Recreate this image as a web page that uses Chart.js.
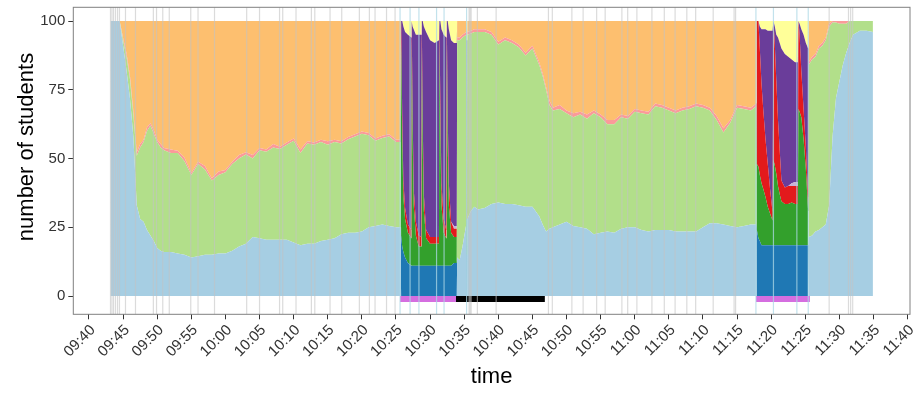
<!DOCTYPE html>
<html>
<head>
<meta charset="utf-8">
<script src="https://cdn.jsdelivr.net/npm/chart.js@4.4.1/dist/chart.umd.min.js"></script>
<style>
  html, body { margin: 0; padding: 0; background: #fff; }
  #wrap { width: 920px; height: 393px; position: relative; }
</style>
</head>
<body>
<div id="wrap"><canvas id="chart"></canvas></div>
<script>
// sample times (hh:mm:ss)
const times = [
  '09:43:09','09:44:30','09:45:00','09:45:30','09:46:00','09:46:30','09:47:00','09:47:30','09:48:00','09:48:30',
  '09:49:00','09:49:30','09:50:00','09:50:30','09:51:00','09:52:00','09:53:00','09:54:00','09:55:00','09:56:00',
  '09:57:00','09:58:00','09:59:00','10:00:00','10:01:00','10:02:00','10:03:00','10:04:00','10:05:00','10:06:00',
  '10:07:00','10:08:00','10:09:00','10:10:00','10:11:00','10:12:00','10:13:00','10:14:00','10:15:00','10:16:00',
  '10:17:00','10:18:00','10:19:00','10:20:00','10:21:00','10:22:00','10:23:00','10:24:00','10:25:00','10:25:40',
  // session 1
  '10:25:45','10:25:55','10:26:05','10:26:20','10:26:45','10:27:15','10:27:18','10:27:26','10:27:36','10:27:55',
  '10:28:20','10:28:44','10:28:47','10:28:55','10:29:05','10:29:25','10:30:00','10:30:40','10:31:18','10:31:22',
  '10:31:30','10:31:40','10:32:00','10:32:22','10:32:27','10:32:35','10:32:45','10:33:05','10:33:30','10:33:55',
  // after session 1
  '10:33:58','10:34:20','10:34:45','10:35:18','10:35:21','10:35:27','10:35:28','10:36:00','10:36:30','10:37:00',
  '10:38:00','10:39:00','10:40:00','10:41:00','10:42:00','10:43:00','10:44:00','10:45:00','10:46:00','10:46:30',
  '10:47:00','10:47:30','10:48:00','10:49:00','10:50:00','10:51:00','10:52:00','10:53:00','10:54:00','10:55:00',
  '10:56:00','10:57:00','10:58:00','10:59:00','11:00:00','11:01:00','11:02:00','11:03:00','11:04:00','11:05:00',
  '11:06:00','11:07:00','11:08:00','11:09:00','11:10:00','11:11:00','11:12:00','11:13:00','11:14:00','11:15:00',
  '11:16:00','11:17:00','11:17:50',
  // session 2
  '11:17:54','11:18:08','11:18:20','11:18:35','11:18:50','11:19:10','11:19:30','11:19:50','11:20:12','11:20:20',
  '11:20:32','11:20:45','11:21:00','11:21:15','11:21:30','11:22:00','11:22:30','11:23:00','11:23:30','11:23:55',
  '11:24:00','11:24:10','11:24:25','11:24:45','11:25:05','11:25:25',
  // after session 2
  '11:25:30','11:26:00','11:26:30','11:27:00','11:27:30','11:28:00','11:28:30','11:29:00','11:29:30','11:30:00',
  '11:30:30','11:31:00','11:31:30','11:32:00','11:33:00','11:34:00','11:34:55'
]

const lightBlue = [
  100,100,91,82,72,58,33,28,27,24,
  22,20,17.5,16.5,16,16,15.5,15,14,14.5,
  15,15,15.5,15.5,16.5,18,19,21.5,21,20.5,
  20.5,20.5,20.5,19.5,18.5,19,19,20,20.5,21,
  22.5,23,23,23.5,25,25.5,26,25.5,25,25,
  0,0,0,0,0,0,0,0,0,0,
  0,0,0,0,0,0,0,0,0,0,
  0,0,0,0,0,0,0,0,0,0,
  14,13,18,26,0,0,28,31,32.5,31.5,
  32,33.5,34,33.5,33.5,33,32.5,32.5,29,26,
  23.5,24.5,25,26,27,25.5,25,24.5,22.5,23,
  23.5,23,24.5,25,25,24,23.5,24,24,24,
  23.5,23.5,23.5,23.5,25,26.5,26.5,26,25.5,25,
  25.5,26,26,
  0,0,0,0,0,0,0,0,0,0,
  0,0,0,0,0,0,0,0,0,0,
  0,0,0,0,0,0,
  21.5,22,23.5,24,25,26,33,58,72,78,
  84,88.5,92,95,96.5,96.5,96
]

const darkBlue = [
  0,0,0,0,0,0,0,0,0,0,
  0,0,0,0,0,0,0,0,0,0,
  0,0,0,0,0,0,0,0,0,0,
  0,0,0,0,0,0,0,0,0,0,
  0,0,0,0,0,0,0,0,0,0,
  22,18,16,14,12,11,11,11,11,11,
  11,11,11,11,11,11,11,11,11,11,
  11,11,11,11,11,11,11,11,12,12,
  0,0,0,0,15,15,0,0,0,0,
  0,0,0,0,0,0,0,0,0,0,
  0,0,0,0,0,0,0,0,0,0,
  0,0,0,0,0,0,0,0,0,0,
  0,0,0,0,0,0,0,0,0,0,
  0,0,0,
  24,21,20,18.5,18.5,18.5,18.5,18.5,18.5,18.5,
  18.5,18.5,18.5,18.5,18.5,18.5,18.5,18.5,18.5,18.5,
  18.5,18.5,18.5,18.5,18.5,18.5,
  0,0,0,0,0,0,0,0,0,0,
  0,0,0,0,0,0,0
]

const lightGreen = [
  0,0,2,5,7,8,18,26,29,36,
  40,39,38.5,37.5,37,36,36.5,34,30,33.5,
  31,27,28.5,29.5,31.5,32,32.5,28.5,32,32,
  33.5,33,34.5,37,33.5,36.5,36,36,34.5,35,
  33,34,35,35.5,33.5,31,31.5,32.5,31,31,
  0,0,0,0,0,0,0,0,0,0,
  0,0,0,0,0,0,0,0,0,0,
  0,0,0,0,0,0,0,0,0,0,
  79,80,76,69,0,0,67,64.5,63.5,64.5,
  64,61.5,57.5,59.5,58.5,57.5,55,57.5,55,54,
  51.5,45,42.5,42,39.5,39.5,41,40,44,42,
  39,39.5,40.5,39.5,42,42.5,42.5,45,44.5,43.5,
  43,44,44.5,45.5,43.5,41,37.5,33.5,37.5,43.5,
  42.5,41.5,43,
  0,0,0,0,0,0,0,0,0,0,
  0,0,0,0,0,0,0,0,0,0,
  0,0,0,0,0,0,
  62.5,64,63.5,66,66,67,65,41.5,27.5,21,
  15,10.5,8,5,3.5,3.5,4
]

const darkGreen = [
  0,0,0,0,0,0,0,0,0,0,
  0,0,0,0,0,0,0,0,0,0,
  0,0,0,0,0,0,0,0,0,0,
  0,0,0,0,0,0,0,0,0,0,
  0,0,0,0,0,0,0,0,0,0,
  70,40,20,14,11,10,82,50,22,11,
  7,7,80,45,20,10,8,8,8,82,
  50,22,12,10,82,45,22,12,9.5,9.5,
  0,0,0,0,13,13,0,0,0,0,
  0,0,0,0,0,0,0,0,0,0,
  0,0,0,0,0,0,0,0,0,0,
  0,0,0,0,0,0,0,0,0,0,
  0,0,0,0,0,0,0,0,0,0,
  0,0,0,
  24,26,24,22.5,20.5,17.5,14,11.5,9,31,
  29,26,21.5,18.5,16,15,15,15.5,15,15,
  49.5,48.5,46.5,38.5,27.5,12.5,
  0,0,0,0,0,0,0,0,0,0,
  0,0,0,0,0,0,0
]

const pink = [
  0,0,0.8,1.3,1.3,1.3,1.3,1.3,0.8,1.3,
  0.8,1.3,0.8,1.3,0.8,1.3,0.8,1.3,0.8,0.8,
  1.3,0.8,1.3,0.8,0.8,1.3,0.8,1.3,0.8,0.8,
  1.3,0.8,0.8,0.8,1.3,0.8,0.8,0.8,1.3,0.8,
  0.8,0.8,0.8,0.8,0.8,0.8,0.8,0.8,0.8,0.8,
  0,0,0,0,0,0,0,0,0,0,
  0,0,0,0,0,0,0,0,0,0,
  0,0,0,0,0,0,0,0,0,0,
  1,1,1,1,0,0,1,1,1,1,
  1,1,1,1,1,1,1,1,1,1,
  1,1.5,1,1.5,1,1.5,1,1.5,1,1,
  1.5,1.5,1,1,1,1,1,1,1,1,
  1,1,1,1,1,1,1.5,1.5,1,1,
  1,1,1,
  0,0,0,0,0,0,0,0,0,0,
  0,0,0,0,0,0,0,0,0,0,
  0,0,0,0,0,0,
  1,1,1,1,1,1,1,0.5,0.5,1,
  1,1,0,0,0,0,0
]

const red = [
  0,0,0,0,0,0,0,0,0,0,
  0,0,0,0,0,0,0,0,0,0,
  0,0,0,0,0,0,0,0,0,0,
  0,0,0,0,0,0,0,0,0,0,
  0,0,0,0,0,0,0,0,0,0,
  8,8,6,4,3,3,7,7,6,5,
  4,3.5,9,8,6,3,2.5,2.5,2.5,7,
  10,8,5,3,7,10,8,4,3,3,
  0,0,0,0,2,2,0,0,0,0,
  0,0,0,0,0,0,0,0,0,0,
  0,0,0,0,0,0,0,0,0,0,
  0,0,0,0,0,0,0,0,0,0,
  0,0,0,0,0,0,0,0,0,0,
  0,0,0,
  52,53,46,36,29,21,15.5,9,3,50.5,
  44,34,24,16,7.5,6,6.5,6,6.5,6.5,
  32,28,17,11,8,5,
  0,0,0,0,0,0,0,0,0,0,
  0,0,0,0,0,0,0
]

const lightOrange = [
  0,0,6.2,11.7,19.7,32.7,47.7,44.7,43.2,38.7,
  37.2,39.7,43.2,44.7,46.2,46.7,47.2,49.7,55.2,51.2,
  52.7,57.2,54.7,54.2,51.2,48.7,47.7,48.7,46.2,46.7,
  44.7,45.7,44.2,42.7,46.7,43.7,44.2,43.2,43.7,43.2,
  43.7,42.2,41.2,40.2,40.7,42.7,41.7,41.2,43.2,43.2,
  0,0,0,0,0,0,0,0,0,0,
  0,0,0,0,0,0,0,0,0,0,
  0,0,0,0,0,0,0,0,0,0,
  6,6,5,4,0,0,4,3.5,3,3,
  3,4,7.5,6,7,8.5,11.5,9,15,19,
  24,29,31.5,30.5,32.5,33.5,33,34,32.5,34,
  36,36,34,34.5,32,32.5,33,30,30.5,31.5,
  32.5,31.5,31,30,30.5,31.5,34.5,39,36,30.5,
  31,31.5,30,
  0,0,0,0,0,0,0,0,0,0,
  0,0,0,0,0,0,0,0,0,0,
  0,0,0,0,0,0,
  15,13,12,9,8,6,1,0,0,0,
  0,0,0,0,0,0,0
]

const lavender = [
  0,0,0,0,0,0,0,0,0,0,
  0,0,0,0,0,0,0,0,0,0,
  0,0,0,0,0,0,0,0,0,0,
  0,0,0,0,0,0,0,0,0,0,
  0,0,0,0,0,0,0,0,0,0,
  0,0,0,0,0,0,0,0,0,0,
  0,0,0,0,0,0,0,0,0,0,
  0,0,0,0,0,0,0,0,1,1,
  0,0,0,0,0,0,0,0,0,0,
  0,0,0,0,0,0,0,0,0,0,
  0,0,0,0,0,0,0,0,0,0,
  0,0,0,0,0,0,0,0,0,0,
  0,0,0,0,0,0,0,0,0,0,
  0,0,0,
  0,0,0,0,0,0,0,0,0,0,
  0,0,0,0,0,0,0,1,1.5,1.5,
  0,0,0,0,0,0,
  0,0,0,0,0,0,0,0,0,0,
  0,0,0,0,0,0,0
]

const purple = [
  0,0,0,0,0,0,0,0,0,0,
  0,0,0,0,0,0,0,0,0,0,
  0,0,0,0,0,0,0,0,0,0,
  0,0,0,0,0,0,0,0,0,0,
  0,0,0,0,0,0,0,0,0,0,
  0,34,56,64,69,70,0,30,58,68,
  73,73.5,0,36,61,72,71.5,70.5,71.5,0,
  29,56,67,70,0,34,56,66,66.5,66.5,
  0,0,0,0,63,63,0,0,0,0,
  0,0,0,0,0,0,0,0,0,0,
  0,0,0,0,0,0,0,0,0,0,
  0,0,0,0,0,0,0,0,0,0,
  0,0,0,0,0,0,0,0,0,0,
  0,0,0,
  0,0,8,20,29,40,48.5,57.5,66,0,
  6.5,16.5,30,39,48,48.5,47,45,43.5,43.5,
  0,4,15,27,38,54,
  0,0,0,0,0,0,0,0,0,0,
  0,0,0,0,0,0,0
]

const yellow = [
  0,0,0,0,0,0,0,0,0,0,
  0,0,0,0,0,0,0,0,0,0,
  0,0,0,0,0,0,0,0,0,0,
  0,0,0,0,0,0,0,0,0,0,
  0,0,0,0,0,0,0,0,0,0,
  0,0,2,4,5,6,0,2,3,5,
  5,5,0,0,2,4,7,8,7,0,
  0,3,5,6,0,0,3,7,8,8,
  0,0,0,0,7,7,0,0,0,0,
  0,0,0,0,0,0,0,0,0,0,
  0,0,0,0,0,0,0,0,0,0,
  0,0,0,0,0,0,0,0,0,0,
  0,0,0,0,0,0,0,0,0,0,
  0,0,0,
  0,0,2,3,3,3,3.5,3.5,3.5,0,
  2,5,6,8,10,12,13,14,15,15,
  0,1,3,5,8,10,
  0,0,0,0,0,0,0,0,0,0,
  0,0,0,0,0,0,0
]

// bars under the zero line
const sessionBars = [['10:25:35', '10:33:48'], ['11:17:46', '11:25:41']]
const pauseBars = [['10:33:48', '10:46:50']]
const barDepth = -2.2

// event marks
const greyLines = [
  '09:43:09','09:43:22','09:43:36','09:43:53','09:44:11','09:44:28','09:45:21','09:46:49','09:49:26','09:49:54',
  '09:50:49','09:51:46','09:54:55','09:55:59','09:58:24','10:03:07','10:05:00','10:07:56','10:08:24','10:10:21',
  '10:12:36','10:13:06','10:15:20','10:17:03','10:19:38','10:21:06','10:21:56','10:23:37','10:24:52','10:35:43',
  '10:35:52','10:36:01','10:36:56','10:39:41','10:47:21','10:47:55','10:50:47','10:52:26','10:54:25','10:55:40',
  '10:58:07','10:58:58','11:00:19','11:02:31','11:04:20','11:05:55','11:07:38','11:08:56','11:11:30','11:14:34',
  '11:14:47','11:28:30','11:31:20','11:31:39','11:31:57'
]
const blueLines = ['10:25:36','10:27:04','10:28:22','10:30:57','10:32:03','10:35:21','11:17:46','11:20:20','11:23:46','11:25:26']

const tickLabels = ['09:40','09:45','09:50','09:55','10:00','10:05','10:10','10:15','10:20','10:25','10:30','10:35','10:40',
  '10:45','10:50','10:55','11:00','11:05','11:10','11:15','11:20','11:25','11:30','11:35','11:40']
const yTicks = [0, 25, 50, 75, 100]

const yMin = -6.65
const yMax = 105
const xMin = 577.7
const xMax = 700.35
const font = '"Liberation Sans", Arial, sans-serif'

const toMin = s => {
  const [h, m, sec] = s.split(':').map(Number)
  return h * 60 + m + (sec || 0) / 60
}
const fmt = v => {
  const t = Math.round(v)
  return String(Math.floor(t / 60)).padStart(2, '0') + ':' + String(t % 60).padStart(2, '0')
}

const xs = times.map(toMin)
const series = [
  [lightBlue, '#a6cee3'],
  [darkBlue, '#1f78b4'],
  [lightGreen, '#b2df8a'],
  [darkGreen, '#33a02c'],
  [pink, '#fb9a99'],
  [red, '#e31a1c'],
  [lightOrange, '#fdbf6f'],
  [lavender, '#cab2d6'],
  [purple, '#6a3d9a'],
  [yellow, '#ffff99'],
]

const datasets = series.map(([values, color], i) => ({
  data: values.map((v, j) => ({ x: xs[j], y: v })),
  backgroundColor: color,
  borderWidth: 0,
  pointRadius: 0,
  fill: i === 0 ? 'origin' : '-1',
  yAxisID: 'y',
  order: 2,
}))

const addBars = (list, color) => list.forEach(([a, b]) => datasets.push({
  data: [{ x: toMin(a), y: 0 }, { x: toMin(b), y: 0 }],
  backgroundColor: color,
  borderWidth: 0,
  pointRadius: 0,
  fill: { value: barDepth },
  yAxisID: 'y2',
  order: 1,
}))
addBars(sessionBars, '#d56ee0')
addBars(pauseBars, '#000000')

const vlines = (list, color) => datasets.push({
  data: list.flatMap(t => [{ x: toMin(t), y: yMin }, { x: toMin(t), y: yMax }, { x: toMin(t), y: null }]),
  borderColor: color,
  borderWidth: 1.2,
  pointRadius: 0,
  fill: false,
  spanGaps: false,
  yAxisID: 'y2',
  order: 0,
})
vlines(greyLines, 'rgba(195,195,195,0.6)')
vlines(blueLines, 'rgba(173,216,230,0.75)')

const panel = {
  id: 'panel',
  afterDraw(chart) {
    const { ctx, chartArea: a } = chart
    ctx.save()
    ctx.strokeStyle = '#808080'
    ctx.lineWidth = 1
    ctx.strokeRect(a.left, a.top, a.right - a.left, a.bottom - a.top)
    ctx.translate(27, 147)
    ctx.rotate(-Math.PI / 2)
    ctx.font = '22px ' + font
    ctx.fillStyle = '#000'
    ctx.textAlign = 'center'
    ctx.textBaseline = 'middle'
    ctx.fillText('number of students', 0, 0)
    ctx.restore()
  }
}

new Chart(document.getElementById('chart'), {
  type: 'line',
  data: { datasets },
  plugins: [panel],
  options: {
    responsive: true,
    maintainAspectRatio: false,
    animation: false,
    events: [],
    layout: { padding: { top: 7.3, right: 10, bottom: 0, left: 0 } },
    plugins: { legend: { display: false }, tooltip: { enabled: false } },
    scales: {
      x: {
        type: 'linear',
        min: xMin,
        max: xMax,
        afterBuildTicks: ax => { ax.ticks = tickLabels.map(t => ({ value: toMin(t + ':00') })) },
        afterFit: s => { s.height = 78.7; s.paddingLeft = 0; s.paddingRight = 0 },
        ticks: { callback: v => fmt(v), autoSkip: false, minRotation: 45, maxRotation: 45, labelOffset: 4, color: '#333', padding: 2, font: { family: font, size: 15 } },
        grid: { drawOnChartArea: false, drawTicks: true, tickLength: 5, tickColor: '#333' },
        border: { display: false },
        title: { display: true, text: 'time', color: '#000', font: { family: font, size: 22, lineHeight: 1 }, padding: { top: 0, bottom: 5 } },
      },
      y: {
        stacked: true,
        min: yMin,
        max: yMax,
        afterBuildTicks: ax => { ax.ticks = yTicks.map(v => ({ value: v })) },
        afterFit: s => { s.width = 73.3; s.paddingTop = 0; s.paddingBottom = 0 },
        ticks: { color: '#333', padding: 3, font: { family: font, size: 15 } },
        grid: { drawOnChartArea: false, drawTicks: true, tickLength: 5, tickColor: '#333' },
        border: { display: false },
      },
      y2: { display: false, min: yMin, max: yMax },
    },
  },
})
</script>
</body>
</html>
